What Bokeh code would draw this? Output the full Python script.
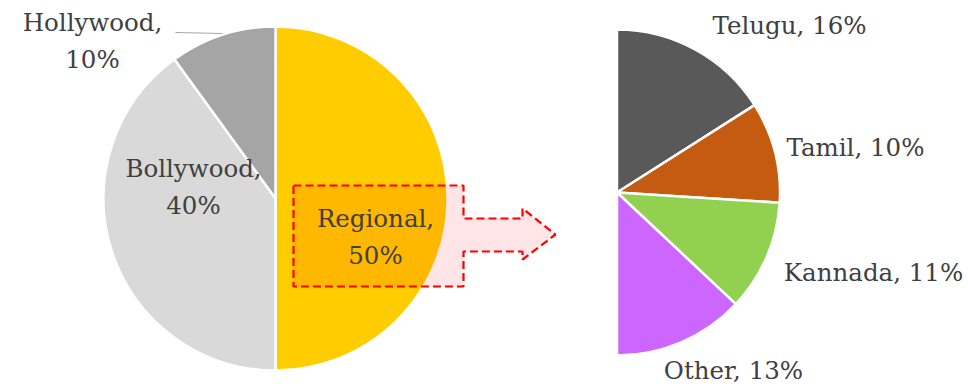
import numpy as np
from bokeh.plotting import figure
from bokeh.models import Range1d
from bokeh.core.properties import value
from bokeh.embed import file_html
from bokeh.resources import INLINE

# ---- data ----
main_labels = ["Regional", "Bollywood", "Hollywood"]
main_values = [50, 40, 10]
main_colors = ["#FFCC00", "#D9D9D9", "#A5A5A5"]

sub_labels = ["Telugu", "Tamil", "Kannada", "Other"]
sub_values = [16, 10, 11, 13]
sub_colors = ["#595959", "#C55A11", "#92D050", "#CC66FF"]

W, H = 968, 386
FONT = "DejaVu Serif"
FS = "24.5px"
TXT = "#404040"

def Y(py):
    return H - py

p = figure(width=W, height=H, output_backend="svg", toolbar_location=None,
           x_range=Range1d(0, W), y_range=Range1d(0, H), min_border=0)
p.axis.visible = False
p.grid.visible = False
p.outline_line_color = None
p.background_fill_color = "white"

def angles(vals, total=100.0):
    v = np.array(vals, dtype=float) / total
    c = np.concatenate([[0], np.cumsum(v)])
    start = np.pi / 2 - 2 * np.pi * c[:-1]
    end = np.pi / 2 - 2 * np.pi * c[1:]
    return start, end

# left pie
s, e = angles(main_values)
p.wedge(x=275, y=Y(198), radius=172, start_angle=s, end_angle=e, direction="clock",
        fill_color=main_colors, line_color="white", line_width=2.5)

# right pie (the sub-slices of Regional, on the same 100% scale)
s2, e2 = angles(sub_values)
p.wedge(x=616.5, y=Y(192), radius=163, start_angle=s2, end_angle=e2, direction="clock",
        fill_color=sub_colors, line_color="white", line_width=2.5)

# dashed callout arrow
ax = [293, 463, 463, 522, 522, 555, 522, 522, 463, 463, 293]
ay = [185, 185, 218, 218, 208, 234, 259, 251, 251, 286, 286]
p.patch(x=ax, y=[Y(v) for v in ay], fill_color="red", fill_alpha=0.1,
        line_color="#FF0000", line_width=2.2, line_dash="8 4")

# leader line for Hollywood
p.line(x=[175, 222], y=[Y(32), Y(33)], line_color="#A5A5A5", line_width=1.2)

def txt(x, y, t, align="center"):
    p.text(x=[x], y=[Y(y)], text=[t], text_align=align, text_baseline="middle",
           text_font=value(FONT), text_font_size=FS, text_color=TXT)

# main labels (two lines)
main_pos = {"Hollywood": (92, 22), "Bollywood": (193, 168), "Regional": (375, 218)}
for lab, val in zip(main_labels, main_values):
    x, y = main_pos[lab]
    txt(x, y, f"{lab},")
    txt(x, y + 37, f"{val}%")

sub_pos = {"Telugu": (789, 25), "Tamil": (855, 147), "Kannada": (873, 272), "Other": (733, 370)}
for lab, val in zip(sub_labels, sub_values):
    x, y = sub_pos[lab]
    txt(x, y, f"{lab}, {val}%")

open("out.html", "w").write(file_html(p, INLINE))
